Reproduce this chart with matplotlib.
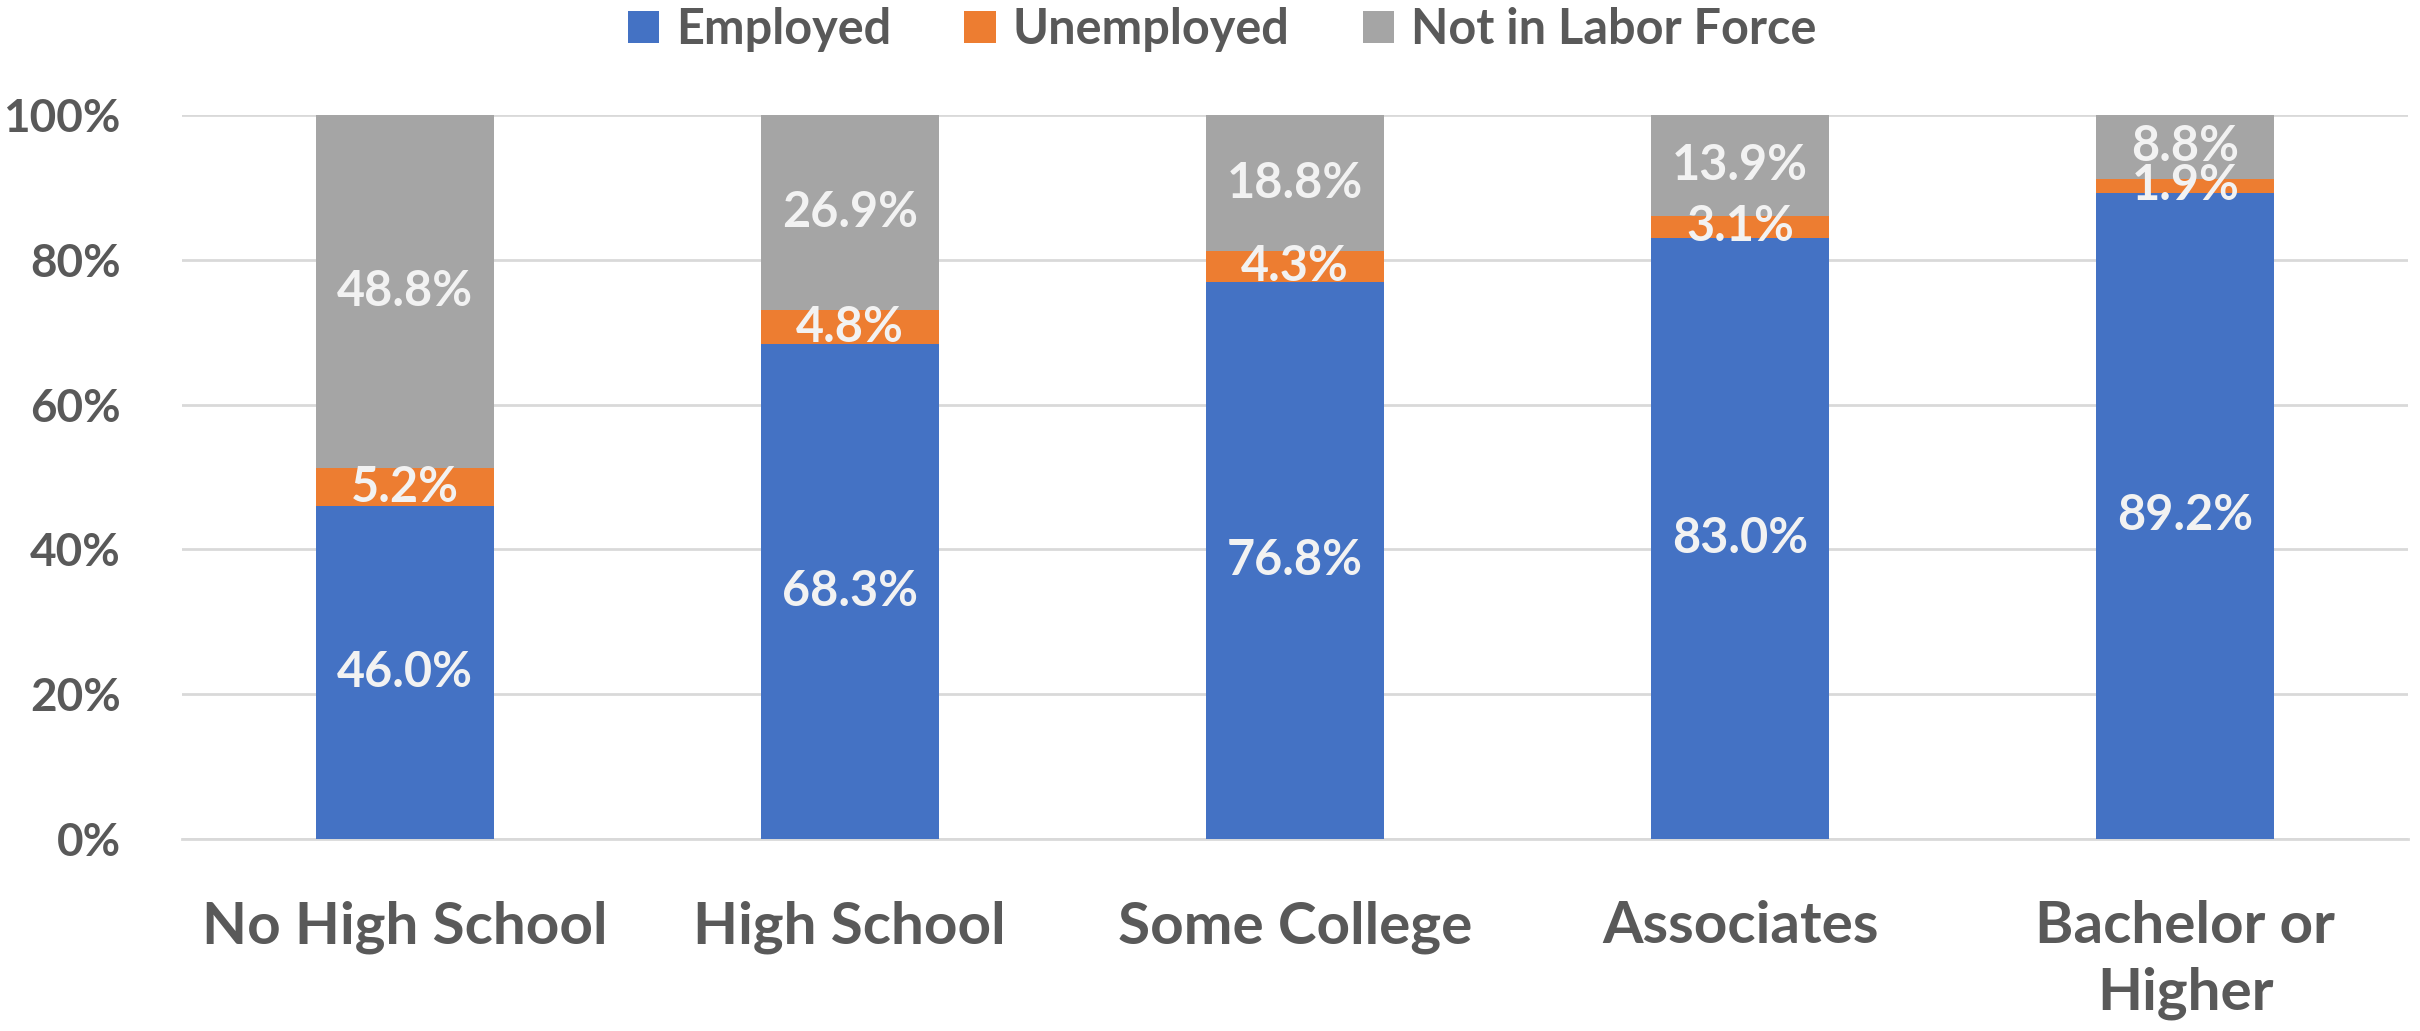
import matplotlib
matplotlib.use("Agg")
import matplotlib.pyplot as plt
import numpy as np
from matplotlib.patches import Patch

# Data
categories = ["No High School", "High School", "Some College", "Associates", "Bachelor or\nHigher"]
employed = [46.0, 68.3, 76.8, 83.0, 89.2]
unemployed = [5.2, 4.8, 4.3, 3.1, 1.9]
not_in_lf = [48.8, 26.9, 18.8, 13.9, 8.8]
series_names = ["Employed", "Unemployed", "Not in Labor Force"]
y_ticks = [0, 20, 40, 60, 80, 100]

colors = ["#4472C4", "#ED7D31", "#A5A5A5"]
text_color = "#595959"
label_color = "#F2F2F2"

plt.rcParams["font.family"] = ["Lato", "DejaVu Sans"]
plt.rcParams["font.weight"] = "bold"

fig = plt.figure(figsize=(24.2, 10.31), dpi=100)
ax = fig.add_axes([0.0752, 0.1862, 0.9198, 0.7023])

x = np.arange(len(categories))
data = np.array([employed, unemployed, not_in_lf])
# 100% stacked: normalise each column like a spreadsheet would
shares = data / data.sum(axis=0) * 100

bottom = np.zeros(len(categories))
for i, name in enumerate(series_names):
    ax.bar(x, shares[i], 0.4, bottom=bottom, color=colors[i], label=name, zorder=3)
    for j in range(len(categories)):
        ax.text(x[j], bottom[j] + shares[i][j] / 2, f"{data[i][j]:.1f}%",
                ha="center", va="center", fontsize=35, fontweight="bold",
                color=label_color, zorder=4)
    bottom += shares[i]

ax.set_xlim(-0.5, len(categories) - 0.5)
ax.set_ylim(0, 100)
ax.set_yticks(y_ticks)
ax.set_yticklabels([f"{t}%" for t in y_ticks], fontsize=33, fontweight="bold", color=text_color)
ax.set_xticks(x)
ax.set_xticklabels(categories, fontsize=42, fontweight="bold", color=text_color, linespacing=1.3)
ax.tick_params(axis="both", length=0)
ax.tick_params(axis="y", pad=44)
ax.tick_params(axis="x", pad=44)

ax.grid(axis="y", color="#D9D9D9", linewidth=2, zorder=0)
for side in ["top", "right", "left"]:
    ax.spines[side].set_visible(False)
ax.spines["bottom"].set_color("#D9D9D9")
ax.spines["bottom"].set_linewidth(2)

handles = [Patch(facecolor=c, edgecolor="none") for c in colors]
fig.legend(handles, series_names, loc="upper center", bbox_to_anchor=(0.505, 1.0), ncol=3,
           frameon=False, handlelength=0.65, handleheight=0.65, borderpad=0.15,
           borderaxespad=0, handletextpad=0.35, columnspacing=1.5, labelcolor=text_color,
           prop={"weight": "bold", "size": 35})

fig.savefig("out.png", dpi=100)
